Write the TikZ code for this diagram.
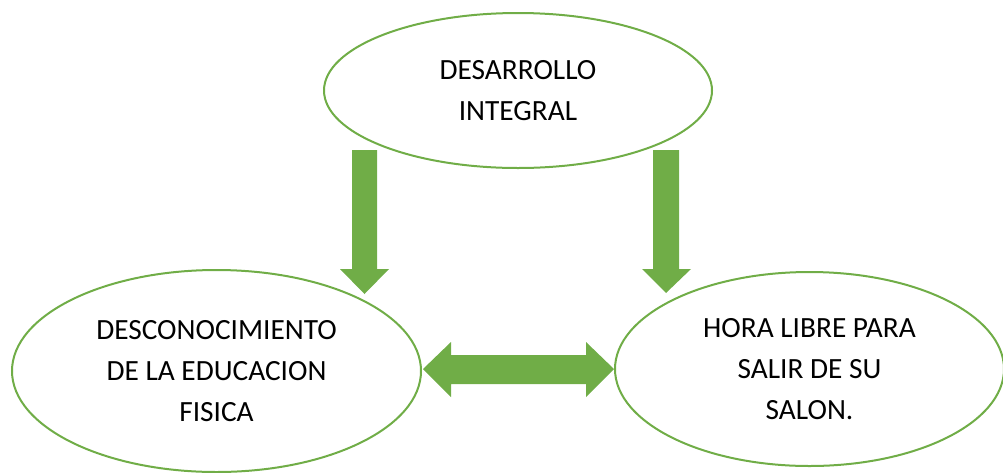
\documentclass[tikz,border=0pt]{standalone}
\usepackage{fontspec}
\setmainfont{Carlito}
\usetikzlibrary{shapes.geometric}
\definecolor{grn}{HTML}{70AD47}
\begin{document}
\begin{tikzpicture}[x=0.75pt,y=-0.75pt,
  bubble/.style={ellipse, draw=grn, line width=1.5pt, inner sep=0pt, align=center,
    font=\fontsize{22}{30.75}\selectfont},
  blockarrow/.style={fill=grn, draw=none}]
\useasboundingbox (0,0) rectangle (1003,472);
% block arrows
\fill[blockarrow] (352,150) -- (377,150) -- (377,269) -- (389,269) -- (364.5,294) -- (340,269) -- (352,269) -- cycle;
\fill[blockarrow] (653,150) -- (679,150) -- (679,269) -- (691,269) -- (666,293) -- (642,269) -- (653,269) -- cycle;
\fill[blockarrow] (423,369) -- (451,342) -- (451,355) -- (586,355) -- (586,342) -- (614,369) -- (586,397) -- (586,384) -- (451,384) -- (451,397) -- cycle;
% ellipses
\node[bubble, minimum width=291pt, minimum height=116.25pt] (top) at (518,90.5) {DESARROLLO\\INTEGRAL};
\node[bubble, minimum width=306.75pt, minimum height=151.5pt] (left) at (216.5,371) {DESCONOCIMIENTO\\DE LA EDUCACION\\FISICA};
\node[bubble, minimum width=291.75pt, minimum height=145.5pt] (right) at (809.5,369) {HORA LIBRE PARA\\SALIR DE SU\\SALON.};
\end{tikzpicture}
\end{document}
